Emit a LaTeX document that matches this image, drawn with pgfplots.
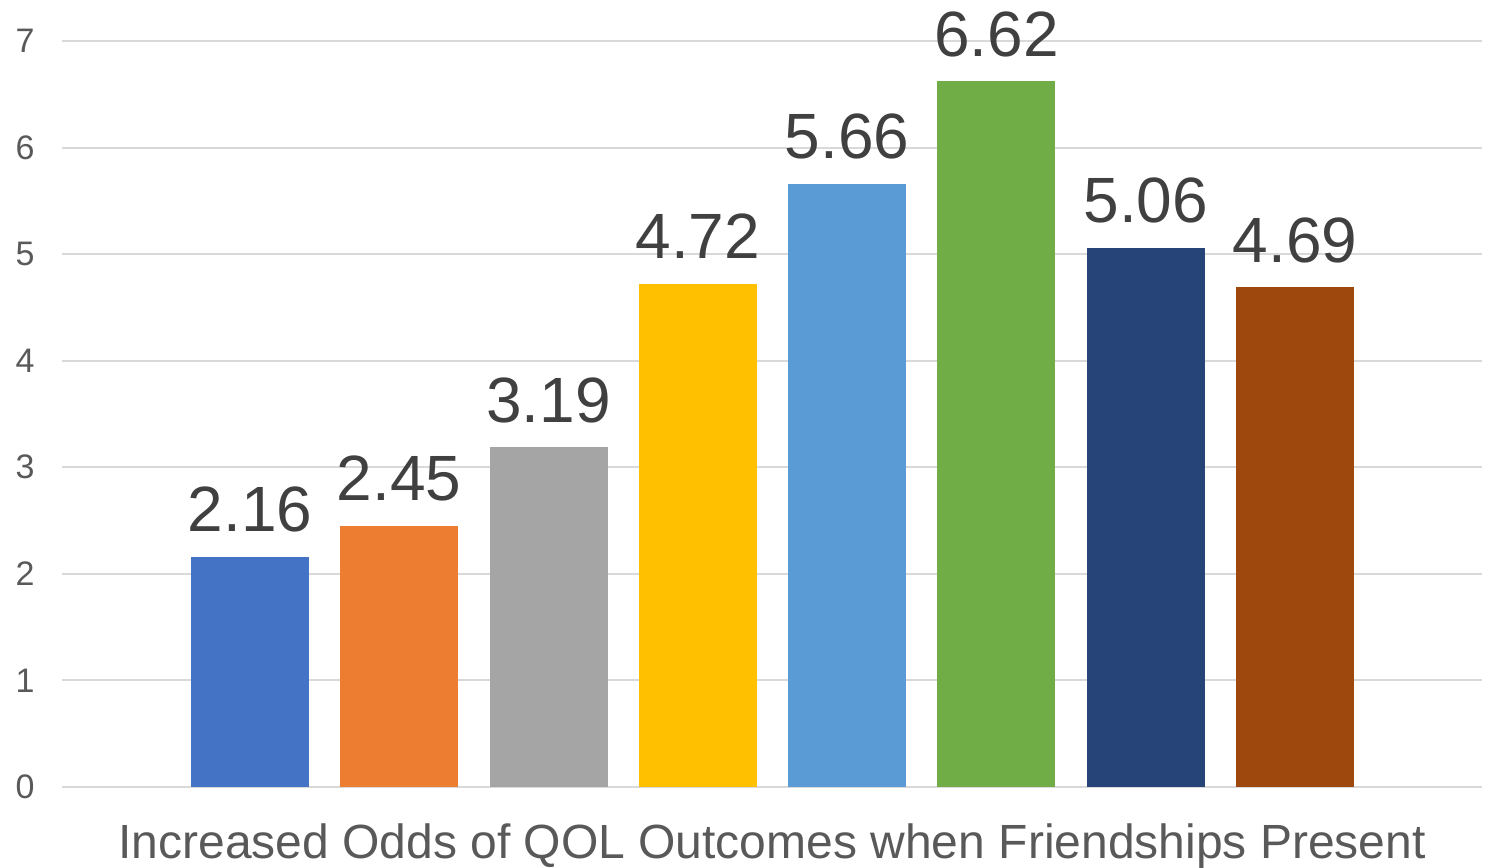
\documentclass[border=0pt]{standalone}
\usepackage{pgfplots}
\pgfplotsset{compat=1.18}
\usepackage{fontspec}
\setmainfont{Liberation Sans}
\definecolor{c1}{HTML}{4472C4}
\definecolor{c2}{HTML}{ED7D31}
\definecolor{c3}{HTML}{A5A5A5}
\definecolor{c4}{HTML}{FFC000}
\definecolor{c5}{HTML}{5B9BD5}
\definecolor{c6}{HTML}{70AD47}
\definecolor{c7}{HTML}{264478}
\definecolor{c8}{HTML}{9E480E}
\definecolor{gridgray}{HTML}{D9D9D9}
\definecolor{ticktext}{HTML}{595959}
\definecolor{labeltext}{HTML}{404040}

\begin{document}
\begin{tikzpicture}
\begin{axis}[
  scale only axis,
  width=710pt,
  height=373pt,
  xmin=-1.259, xmax=8.252,
  ymin=0, ymax=7,
  ytick={0,1,...,7},
  xtick=\empty,
  ymajorgrids=true,
  grid style={gridgray,line width=1pt},
  axis line style={draw=none},
  major tick length=0pt,
  /pgf/number format/assume math mode=true,
  yticklabel style={font=\fontsize{17}{20}\selectfont,text=ticktext,anchor=east,inner sep=0pt,xshift=-13.5pt},
  clip=false,
  every axis plot/.append style={
    ybar, bar width=59pt, bar shift=0pt, draw=none,
    nodes near coords,
    nodes near coords style={font=\fontsize{32}{37}\selectfont,text=labeltext,anchor=base,inner sep=0pt,yshift=12.5pt,
      /pgf/number format/.cd,fixed,fixed zerofill,precision=2,assume math mode=true},
  },
]
\addplot[fill=c1] coordinates {(0,2.16)};
\addplot[fill=c2] coordinates {(1,2.45)};
\addplot[fill=c3] coordinates {(2,3.19)};
\addplot[fill=c4] coordinates {(3,4.72)};
\addplot[fill=c5] coordinates {(4,5.66)};
\addplot[fill=c6] coordinates {(5,6.62)};
\addplot[fill=c7] coordinates {(6,5.06)};
\addplot[fill=c8] coordinates {(7,4.69)};
\node[anchor=base,inner sep=0pt,font=\fontsize{24}{28}\selectfont,text=ticktext]
  at (rel axis cs:0.5,0) [yshift=-35.5pt] {Increased Odds of QOL Outcomes when Friendships Present};
\end{axis}
\pgfresetboundingbox
\path[use as bounding box] (-31pt,-40.5pt) rectangle (711.5pt,393.5pt);
\end{tikzpicture}
\end{document}
